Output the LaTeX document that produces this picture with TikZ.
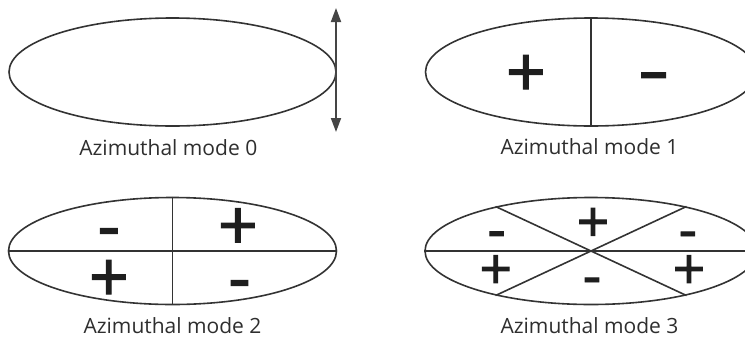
\documentclass[tikz,border=0pt]{standalone}
\usepackage{fontspec}
\setmainfont{Open Sans}
\newfontfamily\sgnfont[FakeBold=1.6]{Open Sans}
\usetikzlibrary{shapes.geometric,arrows.meta}
\definecolor{linecol}{HTML}{333333}
\definecolor{arrcol}{HTML}{454545}
\definecolor{txtcol}{HTML}{2E2E2E}
\definecolor{sgncol}{HTML}{1E1E1E}
\begin{document}
\begin{tikzpicture}[x=1pt,y=-1pt,
  ell/.style={draw=linecol, line width=1.6pt, ellipse, inner sep=0pt, minimum height=108pt},
  div/.style={draw=linecol, line width=1.6pt},
  lbl/.style={anchor=base, text=txtcol, inner sep=0pt, font=\fontsize{21}{25}\selectfont},
  bigplus/.style={text=sgncol, inner sep=0pt, yshift=-3pt, font=\sgnfont\fontsize{70}{70}\selectfont},
  bigminus/.style={text=sgncol, inner sep=0pt, yshift=-10pt, font=\sgnfont\fontsize{70}{70}\selectfont},
  smallplus/.style={text=sgncol, inner sep=0pt, yshift=-2.5pt, font=\sgnfont\fontsize{57}{57}\selectfont},
  smallminus/.style={text=sgncol, inner sep=0pt, yshift=-8.5pt, font=\sgnfont\fontsize{57}{57}\selectfont},
  dbl/.style={draw=arrcol, line width=1.8pt, {Triangle[width=10pt,length=14pt]}-{Triangle[width=10pt,length=14pt]}}
]
\useasboundingbox (0,0) rectangle (745,338);
\clip (0,0) rectangle (745,338);

% Mode 0
\node[ell, minimum width=327pt] (e0) at (172.5,72) {};
\coordinate (a0t) at (336,8);
\coordinate (a0b) at (336,132);
\draw[dbl] (a0t) -- (a0b);
\node[lbl] (l0) at (168.3,155.7) {Azimuthal mode 0};

% Mode 1
\node[ell, minimum width=331pt] (e1) at (591,72) {};
\draw[div] (e1.north) -- (e1.south);
\node[bigplus] (p1) at (526,73) {+};
\node[bigminus, xscale=1.4] (m1) at (653.7,73.3) {-};
\node[lbl] (l1) at (589.5,154.3) {Azimuthal mode 1};

% Mode 2
\node[ell, minimum width=328pt, minimum height=107pt] (e2) at (172.5,251) {};
\draw[div] (e2.north) -- (e2.south);
\draw[div] (e2.west) -- (e2.east);
\node[bigminus] (m2a) at (108.8,229) {-};
\node[bigplus] (p2a) at (238,226.3) {+};
\node[bigplus] (p2b) at (108.8,278) {+};
\node[bigminus] (m2b) at (239.5,281) {-};
\node[lbl] (l2) at (172.5,333.5) {Azimuthal mode 2};

% Mode 3
\node[ell, minimum width=332pt, minimum height=107pt] (e3) at (591,251) {};
\draw[div] (e3.west) -- (e3.east);
\draw[div] (e3.155) -- (e3.-25);
\draw[div] (e3.25) -- (e3.205);
\node[smallminus] (m3a) at (496.7,231.8) {-};
\node[smallplus] (p3a) at (593,222.5) {+};
\node[smallminus] (m3b) at (687.8,232) {-};
\node[smallplus] (p3b) at (495.8,269.7) {+};
\node[smallminus] (m3c) at (592,278) {-};
\node[smallplus] (p3c) at (689,269.7) {+};
\node[lbl] (l3) at (589.5,333.5) {Azimuthal mode 3};
\end{tikzpicture}
\end{document}
